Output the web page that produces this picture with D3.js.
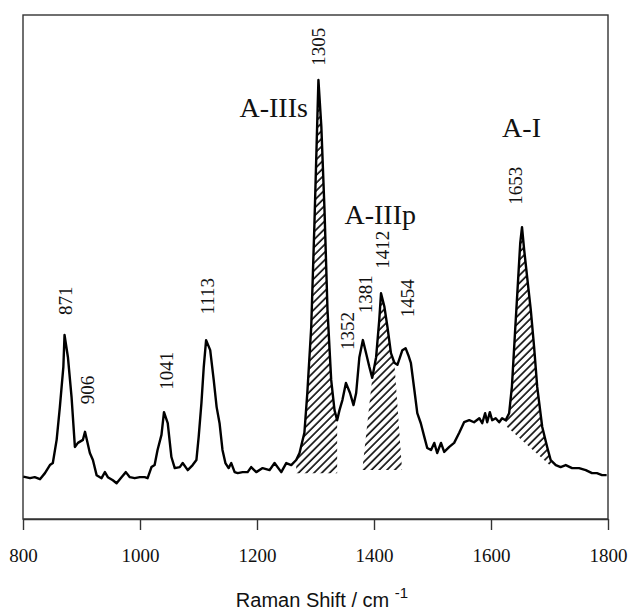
<!DOCTYPE html>
<html>
<head>
<meta charset="utf-8">
<script src="https://cdn.jsdelivr.net/npm/d3@7/dist/d3.min.js"></script>
<style>
  html, body { margin: 0; padding: 0; background: #fff; }
  svg { display: block; }
</style>
</head>
<body>
<svg id="chart" width="631" height="614"></svg>
<script>
// ---- data ----
const wavenumber = [800.5,812,820,829,837.5,846,851,857.5,863,869,871,876.8,883,888.7,893.9,902.4,906,914.3,919.5,925.8,934.3,940,945,953.6,960,968.4,975.8,982.6,991,999.7,1008,1013,1019.6,1025,1030,1036.7,1041,1047.4,1053.7,1059.4,1068,1073,1081.6,1090,1096.4,1100.3,1105,1109,1113,1120,1126,1131,1136,1141,1146,1151.5,1156,1161.8,1167,1175.4,1184,1190,1198.8,1209.6,1221.5,1230,1241.5,1250,1258.5,1267,1272.7,1281,1286,1292.7,1298,1302,1305,1310,1315.4,1320.5,1326.8,1332.5,1337,1341,1346,1352,1359,1365,1369.5,1375,1381,1386.5,1392,1397,1403.6,1409,1412,1417.8,1423,1429,1434.8,1440,1444.5,1448.5,1454,1458.7,1463,1469,1474,1480,1486,1491,1497.5,1503,1508,1514.5,1520,1528.7,1537,1545.7,1554,1562.8,1571,1580,1585,1590,1593.5,1598,1602,1608,1614,1619,1625,1631,1635.7,1641,1646,1650,1653,1656.7,1661.8,1668,1673.7,1679,1687.5,1696,1702,1710.8,1719,1727.8,1738.6,1750.5,1762,1772.7,1781,1789.8,1797.7];
const intensity = [8.4,8.1,8.3,7.9,9.1,10.7,11.1,15.7,22.2,30.2,36.5,32.1,24.2,14.3,15.1,15.7,17.3,13.1,11.7,8.7,8.1,9.3,8.3,7.7,7.1,8.3,9.3,8.3,8.1,8.3,8.3,8.1,10.3,10.7,13.7,16.7,21.2,19.0,12.3,10.1,10.3,11.1,9.7,10.7,11.7,16.3,23.0,30.2,35.5,33.5,27.6,22.2,19.0,13.7,11.1,10.1,11.1,9.3,9.1,9.3,9.3,10.3,9.3,10.1,9.7,11.1,9.3,11.1,10.7,11.7,13.1,17.1,25.0,38.1,57.9,74.6,87.1,77.8,61.3,41.5,27.6,21.6,19.6,21.6,23.6,27.0,25.0,22.6,25.0,32.1,35.5,32.9,30.2,28.0,32.1,39.5,44.8,42.1,38.1,32.9,31.0,30.6,32.1,33.5,33.9,32.5,31.0,25.6,21.0,19.0,16.3,14.1,13.7,15.1,13.1,15.1,13.3,14.3,15.1,17.1,19.2,19.6,19.2,20.0,19.0,21.0,19.2,21.2,19.6,20.0,19.2,20.0,19.6,21.0,26.2,36.9,46.8,54.8,57.9,53.4,48.0,41.5,34.1,26.2,18.3,14.3,11.7,10.7,10.3,10.7,10.1,10.1,9.7,9.1,9.1,8.7,8.7];

const xTicks = [800, 1000, 1200, 1400, 1600, 1800];
const xTickLabels = ["800", "1000", "1200", "1400", "1600", "1800"];

const peakLabels = ["871", "906", "1041", "1113", "1305", "1352", "1381", "1412", "1454", "1653"];
const peakLabelAt = [[883.6,43.3],[921.2,25.6],[1056,29.4],[1126,44.2],[1315.4,93.7],[1366.6,37.3],[1397.3,44.6],[1426.3,53.4],[1469,43.8],[1653.3,66.1]];

const bandNames = ["A-IIIs", "A-IIIp", "A-I"];
const bandLabelAt = [[1170, 79.8], [1349.5, 58.5], [1619, 75.8]];
// shaded bands: curve span [from,to], base line from [v,I] to [v,I]
const bandCurveSpan = [[1267, 1337], [1397, 1434.8], [1625, 1702]];
const bandBase = [[[1267, 9.1], [1337, 9.1]], [[1380, 9.7], [1448, 9.7]], [[1627, 18.3], [1704, 10.3]]];

const xTitle = "Raman Shift / cm";
const xTitleSup = "-1";

// ---- drawing ----
const svg = d3.select("#chart");
const x = d3.scaleLinear().domain([800, 1800]).range([23, 608]);
const y = d3.scaleLinear().domain([0, 100]).range([519, 15]);

const defs = svg.append("defs");
const pat = defs.append("pattern")
  .attr("id", "hatch").attr("patternUnits", "userSpaceOnUse")
  .attr("width", 5.5).attr("height", 5.5)
  .attr("patternTransform", "rotate(45)");
pat.append("line").attr("x1", 1).attr("y1", 0).attr("x2", 1).attr("y2", 5.5)
  .attr("stroke", "#111").attr("stroke-width", 1.7);

const pts = wavenumber.map((v, i) => [v, intensity[i]]);

// hatched regions
bandCurveSpan.forEach((span, i) => {
  const seg = pts.filter(p => p[0] >= span[0] && p[0] <= span[1]);
  const poly = [bandBase[i][0], ...seg, bandBase[i][1]];
  svg.append("path")
    .attr("d", d3.line().x(d => x(d[0])).y(d => y(d[1]))(poly) + "Z")
    .attr("fill", "url(#hatch)").attr("stroke", "none");
});

// frame
svg.append("rect")
  .attr("x", x(800)).attr("y", y(100))
  .attr("width", x(1800) - x(800)).attr("height", y(0) - y(100))
  .attr("fill", "none").attr("stroke", "#333").attr("stroke-width", 1.4);

// x axis
const ax = svg.append("g")
  .attr("transform", `translate(0,${y(0)})`)
  .call(d3.axisBottom(x).tickValues(xTicks).tickFormat((d, i) => xTickLabels[i])
    .tickSize(11).tickSizeOuter(0).tickPadding(19));
ax.select(".domain").attr("stroke", "#333").attr("stroke-width", 1.4);
ax.selectAll(".tick line").attr("stroke", "#333").attr("stroke-width", 1.4);
ax.selectAll(".tick text")
  .attr("font-family", "'Liberation Serif', 'Times New Roman', serif")
  .attr("font-size", 19).attr("fill", "#111");

// spectrum
svg.append("path")
  .datum(pts)
  .attr("d", d3.line().x(d => x(d[0])).y(d => y(d[1])))
  .attr("fill", "none").attr("stroke", "#000")
  .attr("stroke-width", 2.4).attr("stroke-linejoin", "round");

// peak labels (rotated)
peakLabels.forEach((t, i) => {
  const [v, I] = peakLabelAt[i];
  svg.append("text")
    .attr("transform", `translate(${x(v)},${y(I)}) rotate(-90)`)
    .attr("text-anchor", "middle")
    .attr("font-family", "'Liberation Serif', 'Times New Roman', serif")
    .attr("font-size", 19).attr("fill", "#111")
    .text(t);
});

// band labels
bandNames.forEach((t, i) => {
  const [v, I] = bandLabelAt[i];
  svg.append("text")
    .attr("x", x(v)).attr("y", y(I))
    .attr("font-family", "'Liberation Serif', 'Times New Roman', serif")
    .attr("font-size", 28).attr("fill", "#111")
    .text(t);
});

// axis title
const tt = svg.append("text")
  .attr("x", 322).attr("y", 607)
  .attr("text-anchor", "middle")
  .attr("font-family", "'Liberation Sans', Arial, sans-serif")
  .attr("font-size", 20).attr("fill", "#111");
tt.append("tspan").text(xTitle + " ");
tt.append("tspan").attr("dy", -9).attr("font-size", 15).text(xTitleSup);
</script>
</body>
</html>
